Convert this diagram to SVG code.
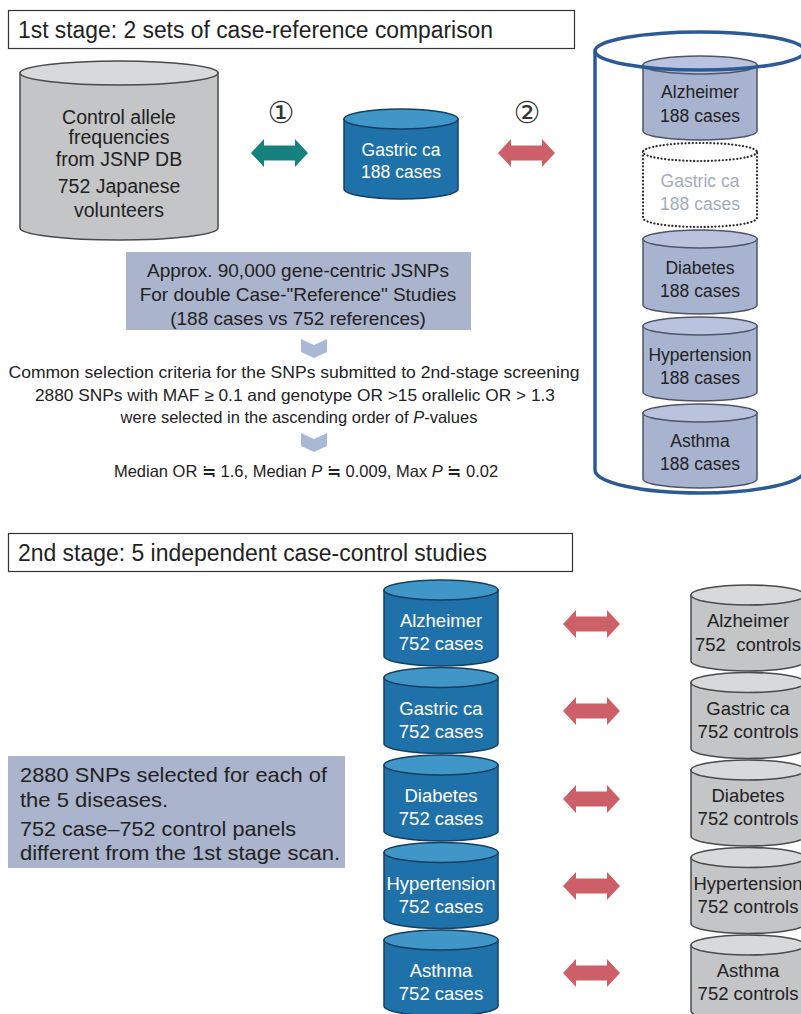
<svg xmlns="http://www.w3.org/2000/svg" width="801" height="1014" viewBox="0 0 801 1014">
<style>
text{font-family:"Liberation Sans",Arial,"Noto Sans CJK JP",sans-serif;fill:#222}
.title{font-size:23px}
.gb{fill:#c4c5c7;stroke:#4a4a4a;stroke-width:1.5}
.gt{fill:#d8d9db;stroke:#4a4a4a;stroke-width:1.5}
.bb{fill:#1f71aa;stroke:#143f62;stroke-width:1.5}
.bt{fill:#4196c8;stroke:#143f62;stroke-width:1.5}
.lb{fill:#a8b3d0;stroke:#4f5568;stroke-width:1.5}
.lt{fill:#bac3dd;stroke:#4f5568;stroke-width:1.5}
.dot{fill:#fff;stroke:#2a2a2a;stroke-width:2.2;stroke-dasharray:0.1 3.5;stroke-linecap:round}
.t17{font-size:17.5px;text-anchor:middle}
.t18{font-size:18.5px;text-anchor:middle}
.wt{fill:#fff}
.c{text-anchor:middle}
.num{font-size:30px;text-anchor:middle;font-family:"DejaVu Serif","DejaVu Sans","Noto Sans CJK JP",serif;fill:#333}
.box{fill:#aab4cc}
.chev{fill:#a9b8d5}
.teal{fill:#17827d}
.red{fill:#cc5f68}
</style>
<defs>
<path id="dbl" d="M0,0 L13,-14 L13,-7.5 L44,-7.5 L44,-14 L57,0 L44,14 L44,7.5 L13,7.5 L13,14 Z"/>
<path id="chv" d="M0,0 L13,6 L26,0 L26,13 L13,19 L0,13 Z"/>
</defs>
<rect width="801" height="1014" fill="#fff"/>

<g id="title1">
<rect x="8.5" y="10.5" width="566" height="38" fill="#fff" stroke="#333" stroke-width="1.2"/>
<text class="title" x="18" y="38" textLength="475" lengthAdjust="spacingAndGlyphs">1st stage: 2 sets of case-reference comparison</text>
</g>

<g id="control-db">
<path class="gb" d="M20,73 L20,228 A99,12 0 0 0 218,228 L218,73 Z"/>
<ellipse class="gt" cx="119" cy="73" rx="99" ry="12"/>
<text class="c" font-size="19.5" x="119" y="124">Control allele</text>
<text class="c" font-size="19.5" x="119" y="144">frequencies</text>
<text class="c" font-size="19.5" x="119" y="166">from JSNP DB</text>
<text class="c" font-size="19.5" x="119" y="193">752 Japanese</text>
<text class="c" font-size="19.5" x="119" y="217">volunteers</text>
</g>

<g id="gastric-188">
<path class="bb" d="M344,119 L344,189 A57,10 0 0 0 458,189 L458,119 Z"/>
<ellipse class="bt" cx="401" cy="119" rx="57" ry="10"/>
<text class="t17 wt" x="401" y="156">Gastric ca</text>
<text class="t17 wt" x="401" y="178">188 cases</text>
</g>

<g id="labels">
<text class="num" x="281" y="123">①</text>
<text class="num" x="527" y="123">②</text>
</g>

<g id="stack-188">
<g id="alz-188">
<path class="lb" d="M643,65 L643,131 A57,9 0 0 0 757,131 L757,65 Z"/>
<ellipse class="lt" cx="700" cy="65" rx="57" ry="9"/>
<text class="t17" x="700" y="98">Alzheimer</text>
<text class="t17" x="700" y="122">188 cases</text>
</g>
<g id="gastric-188-ref">
<path class="dot" d="M643,152 L643,218 A57,9 0 0 0 757,218 L757,152"/>
<ellipse class="dot" cx="700" cy="152" rx="57" ry="9"/>
<text class="t17" style="fill:#a3abbb" x="700" y="187">Gastric ca</text>
<text class="t17" style="fill:#a3abbb" x="700" y="210">188 cases</text>
</g>
<g id="dia-188">
<path class="lb" d="M643,239 L643,305 A57,9 0 0 0 757,305 L757,239 Z"/>
<ellipse class="lt" cx="700" cy="239" rx="57" ry="9"/>
<text class="t17" x="700" y="274">Diabetes</text>
<text class="t17" x="700" y="297">188 cases</text>
</g>
<g id="hyp-188">
<path class="lb" d="M643,326 L643,392 A57,9 0 0 0 757,392 L757,326 Z"/>
<ellipse class="lt" cx="700" cy="326" rx="57" ry="9"/>
<text class="t17" x="700" y="361">Hypertension</text>
<text class="t17" x="700" y="384">188 cases</text>
</g>
<g id="ast-188">
<path class="lb" d="M643,413 L643,479 A57,9 0 0 0 757,479 L757,413 Z"/>
<ellipse class="lt" cx="700" cy="413" rx="57" ry="9"/>
<text class="t17" x="700" y="447">Asthma</text>
<text class="t17" x="700" y="470">188 cases</text>
</g>
</g>

<g id="reference-cylinder" fill="none" stroke="#2b5a94" stroke-width="3.5">
<path d="M595,51 L595,470 A105,23 0 0 0 805,470 L805,51"/>
<ellipse cx="700" cy="51" rx="105" ry="19"/>
</g>

<g id="snp-box">
<rect class="box" x="126" y="252" width="345" height="78"/>
<text class="c" font-size="19" x="298" y="277">Approx. 90,000 gene-centric JSNPs</text>
<text class="c" font-size="19" x="298" y="301">For double Case-"Reference" Studies</text>
<text class="c" font-size="19" x="298" y="325">(188 cases vs 752 references)</text>
</g>

<g id="criteria">
<text class="c" font-size="16.5" x="294" y="378" textLength="571" lengthAdjust="spacingAndGlyphs">Common selection criteria for the SNPs submitted to 2nd-stage screening</text>
<text class="c" font-size="16.5" x="295" y="401" textLength="520" lengthAdjust="spacingAndGlyphs">2880 SNPs with MAF ≥ 0.1 and genotype OR &gt;15 orallelic OR &gt; 1.3</text>
<text class="c" font-size="16.5" x="299" y="423">were selected in the ascending order of <tspan font-style="italic">P</tspan>-values</text>
</g>

<g id="median">
<text class="c" font-size="16.5" x="306" y="477">Median OR ≒ 1.6, Median <tspan font-style="italic">P</tspan> ≒ 0.009, Max <tspan font-style="italic">P</tspan> ≒ 0.02</text>
</g>

<g id="title2">
<rect x="8.5" y="533.5" width="564" height="38" fill="#fff" stroke="#333" stroke-width="1.2"/>
<text class="title" x="18" y="561" textLength="469" lengthAdjust="spacingAndGlyphs">2nd stage: 5 independent case-control studies</text>
</g>

<g id="info-box">
<rect class="box" x="8" y="756" width="337" height="112"/>
<text font-size="21" x="20" y="782" textLength="307" lengthAdjust="spacingAndGlyphs">2880 SNPs selected for each of</text>
<text font-size="21" x="20" y="807" textLength="148" lengthAdjust="spacingAndGlyphs">the 5 diseases.</text>
<text font-size="21" x="20" y="836" textLength="276" lengthAdjust="spacingAndGlyphs">752 case–752 control panels</text>
<text font-size="21" x="20" y="860" textLength="320" lengthAdjust="spacingAndGlyphs">different from the 1st stage scan.</text>
</g>

<g id="cases-752">
<g id="alz-case">
<path class="bb" d="M384,590 L384,656 A57,10 0 0 0 498,656 L498,590 Z"/>
<ellipse class="bt" cx="441" cy="590" rx="57" ry="10"/>
<text class="t18 wt" x="441" y="627">Alzheimer</text>
<text class="t18 wt" x="441" y="650">752 cases</text>
</g>
<g id="gas-case">
<path class="bb" d="M384,677.5 L384,743.5 A57,10 0 0 0 498,743.5 L498,677.5 Z"/>
<ellipse class="bt" cx="441" cy="677.5" rx="57" ry="10"/>
<text class="t18 wt" x="441" y="714.5">Gastric ca</text>
<text class="t18 wt" x="441" y="737.5">752 cases</text>
</g>
<g id="dia-case">
<path class="bb" d="M384,765 L384,831 A57,10 0 0 0 498,831 L498,765 Z"/>
<ellipse class="bt" cx="441" cy="765" rx="57" ry="10"/>
<text class="t18 wt" x="441" y="802">Diabetes</text>
<text class="t18 wt" x="441" y="825">752 cases</text>
</g>
<g id="hyp-case">
<path class="bb" d="M384,852.5 L384,918.5 A57,10 0 0 0 498,918.5 L498,852.5 Z"/>
<ellipse class="bt" cx="441" cy="852.5" rx="57" ry="10"/>
<text class="t18 wt" x="441" y="889.5">Hypertension</text>
<text class="t18 wt" x="441" y="912.5">752 cases</text>
</g>
<g id="ast-case">
<path class="bb" d="M384,940 L384,1006 A57,10 0 0 0 498,1006 L498,940 Z"/>
<ellipse class="bt" cx="441" cy="940" rx="57" ry="10"/>
<text class="t18 wt" x="441" y="977">Asthma</text>
<text class="t18 wt" x="441" y="1000">752 cases</text>
</g>
</g>

<g id="controls-752">
<g id="alz-ctrl">
<path class="gb" d="M691,595 L691,661 A57,10 0 0 0 805,661 L805,595 Z"/>
<ellipse class="gt" cx="748" cy="595" rx="57" ry="10"/>
<text class="t18" x="748" y="627">Alzheimer</text>
<text class="t18" x="748" y="651" xml:space="preserve">752  controls</text>
</g>
<g id="gas-ctrl">
<path class="gb" d="M691,682.5 L691,748.5 A57,10 0 0 0 805,748.5 L805,682.5 Z"/>
<ellipse class="gt" cx="748" cy="682.5" rx="57" ry="10"/>
<text class="t18" x="748" y="714.5">Gastric ca</text>
<text class="t18" x="748" y="737.5">752 controls</text>
</g>
<g id="dia-ctrl">
<path class="gb" d="M691,770 L691,836 A57,10 0 0 0 805,836 L805,770 Z"/>
<ellipse class="gt" cx="748" cy="770" rx="57" ry="10"/>
<text class="t18" x="748" y="802">Diabetes</text>
<text class="t18" x="748" y="825">752 controls</text>
</g>
<g id="hyp-ctrl">
<path class="gb" d="M691,857.5 L691,923.5 A57,10 0 0 0 805,923.5 L805,857.5 Z"/>
<ellipse class="gt" cx="748" cy="857.5" rx="57" ry="10"/>
<text class="t18" x="748" y="889.5">Hypertension</text>
<text class="t18" x="748" y="912.5">752 controls</text>
</g>
<g id="ast-ctrl">
<path class="gb" d="M691,945 L691,1011 A57,10 0 0 0 805,1011 L805,945 Z"/>
<ellipse class="gt" cx="748" cy="945" rx="57" ry="10"/>
<text class="t18" x="748" y="977">Asthma</text>
<text class="t18" x="748" y="1000">752 controls</text>
</g>
</g>

<g id="connectors">
<use href="#dbl" class="teal" x="251" y="153"/>
<use href="#dbl" class="red" x="498" y="153"/>
<use href="#chv" class="chev" x="301" y="339"/>
<use href="#chv" class="chev" x="301" y="433"/>
<use href="#dbl" class="red" x="563" y="624"/>
<use href="#dbl" class="red" x="563" y="711"/>
<use href="#dbl" class="red" x="563" y="799"/>
<use href="#dbl" class="red" x="563" y="886"/>
<use href="#dbl" class="red" x="563" y="973"/>
</g>
</svg>
